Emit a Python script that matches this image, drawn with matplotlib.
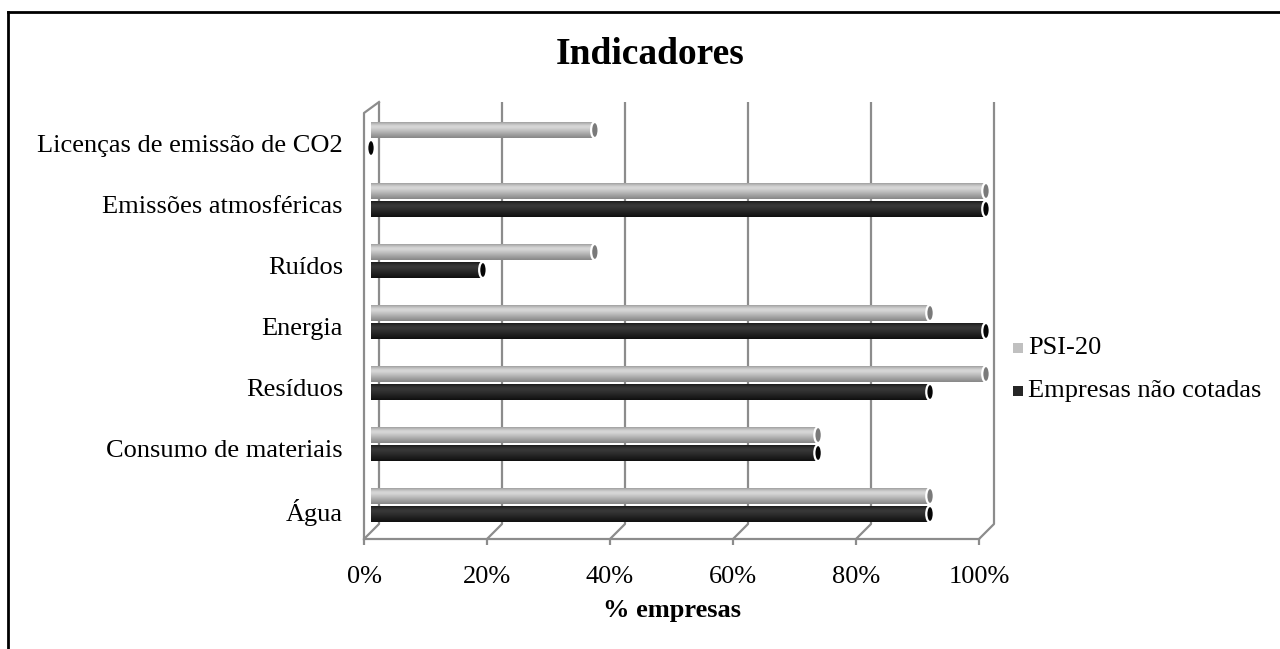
#coding:utf-8

# Indicadores - horizontal "cylinder" bars, Excel 3D look

import numpy as np
from matplotlib import pyplot as plt
from matplotlib.patches import Ellipse
from matplotlib.lines import Line2D

categories = ['Água', 'Consumo de materiais', 'Resíduos', 'Energia',
	'Ruídos', 'Emissões atmosféricas', 'Licenças de emissão de CO2']
psi20 = [90.9, 72.7, 100.0, 90.9, 36.4, 100.0, 36.4]
nao_cotadas = [90.9, 72.7, 90.9, 100.0, 18.2, 100.0, 0.0]
series_names = ['PSI-20', 'Empresas não cotadas']
xticks = [0, 20, 40, 60, 80, 100]
xtick_labels = ['0%', '20%', '40%', '60%', '80%', '100%']

W, H = 1280, 649
DPI = 100
plt.rcParams['font.family'] = ['Liberation Serif', 'DejaVu Serif']

# pixel geometry of the plot box (pixels from top-left)
L, R, T, B = 340, 1010, 90, 560
X0, XS = 371.0, 6.15      # pixel of 0 %, pixels per 1 %
Y0, YS = 505.0, 61.0      # pixel of first group centre, pixels per group

def px_to_x(p):
	return (p - X0) / XS

def px_to_y(p):
	return (Y0 - p) / YS

fig = plt.figure(figsize=(W / DPI, H / DPI), dpi=DPI)
ax = fig.add_axes([L / W, 1 - B / H, (R - L) / W, (B - T) / H])
ax.set_xlim(px_to_x(L), px_to_x(R))
ax.set_ylim(px_to_y(B), px_to_y(T))
ax.axis('off')

# depth of the 3D box
dx_back = 8.0 / XS
dx_front = -7.0 / XS
y_top = px_to_y(102)
y_back_bot = px_to_y(524)
y_front = px_to_y(539)
y_left_top = px_to_y(113)
tick_len = 6.0 / YS
grid_c = '#8c8c8c'
lw = 1.6

for t in xticks:
	xb = t + dx_back
	xf = t + dx_front
	ax.plot([xb, xb, xf, xf], [y_top, y_back_bot, y_front, y_front - tick_len],
		color=grid_c, lw=lw, solid_capstyle='butt', zorder=1)
# left wall and floor
ax.plot([dx_back, dx_front, dx_front], [y_top, y_left_top, y_front],
	color=grid_c, lw=lw, zorder=1)
ax.plot([dx_front, 100 + dx_front], [y_front, y_front], color=grid_c, lw=lw, zorder=1)

# bars
bar_h = 17.0 / YS
off = 9.0 / YS
y = np.arange(len(categories))

grad_light = np.array([0.60, 0.68, 0.76, 0.82, 0.84, 0.82, 0.78, 0.74, 0.70, 0.66, 0.62, 0.58, 0.54])
grad_dark = np.array([0.10, 0.14, 0.18, 0.21, 0.22, 0.21, 0.19, 0.17, 0.15, 0.13, 0.11, 0.09, 0.07])

def draw_cylinders(yc, vals, grad, cap_color):
	bars = ax.barh(yc, vals, height=bar_h, left=0, color='none', edgecolor='none', zorder=2)
	img = np.repeat(grad[:, None], 2, axis=1)
	for b, v, c in zip(bars, vals, yc):
		if v > 0:
			im = ax.imshow(img, cmap='gray', vmin=0, vmax=1, aspect='auto',
				extent=[0, v, c - bar_h / 2, c + bar_h / 2], interpolation='bilinear', zorder=2)
			im.set_clip_path(b)
		ax.add_patch(Ellipse((v, c), 7.5 / XS, bar_h * 0.95, facecolor=cap_color,
			edgecolor='white', lw=1.6, zorder=3))

draw_cylinders(y + off, psi20, grad_light, '#7a7a7a')
draw_cylinders(y - off, nao_cotadas, grad_dark, '#050505')
ax.set_xlim(px_to_x(L), px_to_x(R))
ax.set_ylim(px_to_y(B), px_to_y(T))

# category labels
for i, c in enumerate(categories):
	ax.text(px_to_x(343), i - 7.0 / YS, c, ha='right', va='center', fontsize=19, color='black')
# x tick labels
for t, lab in zip(xticks, xtick_labels):
	ax.text(t + dx_front, px_to_y(577), lab, ha='center', va='center', fontsize=19, color='black')

fig.text(672 / W, 1 - 610 / H, '% empresas', ha='center', va='center', fontsize=19, fontweight='bold')
fig.text(650 / W, 1 - 55 / H, 'Indicadores', ha='center', va='center', fontsize=27, fontweight='bold')

# legend
leg_items = [(series_names[0], '#c0c0c0', 348), (series_names[1], '#262626', 391)]
for name, col, yp in leg_items:
	fig.patches.append(plt.Rectangle((1013 / W, 1 - (yp + 5) / H), 10 / W, 10 / H,
		facecolor=col, edgecolor='none', transform=fig.transFigure, figure=fig))
	fig.text(1028 / W, 1 - yp / H, name, ha='left', va='center', fontsize=19)

# outer frame
fig.add_artist(Line2D([8 / W, 8 / W], [0, 1 - 12 / H], color='black', lw=2, transform=fig.transFigure))
fig.add_artist(Line2D([8 / W, 1], [1 - 12 / H, 1 - 12 / H], color='black', lw=2, transform=fig.transFigure))

fig.savefig('out.png', dpi=DPI)
